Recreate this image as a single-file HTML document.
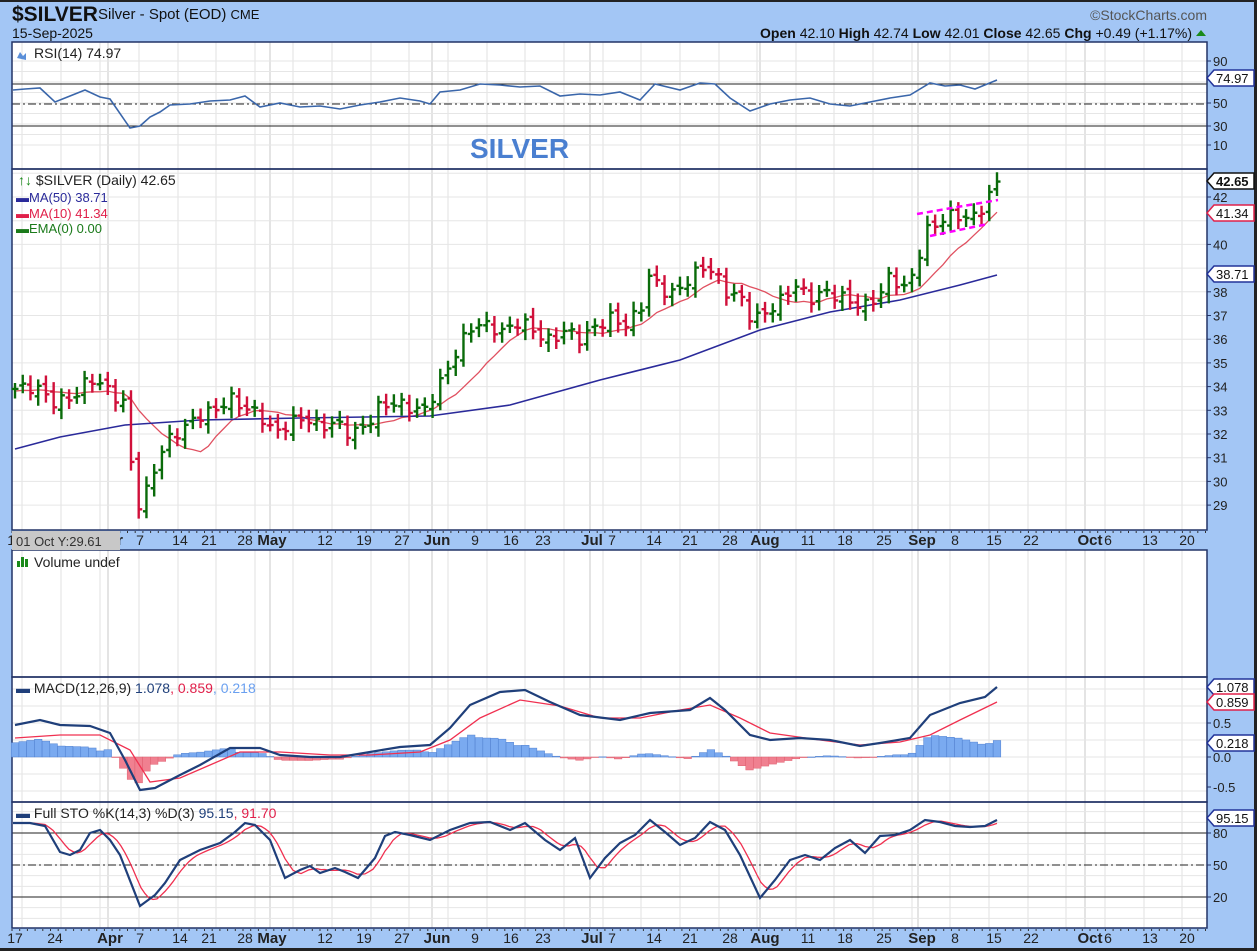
<!DOCTYPE html><html><head><meta charset="utf-8"><style>
body{margin:0;background:#a3c6f5;}svg{display:block;font-family:"Liberation Sans",sans-serif}
</style></head><body>
<svg id="s" width="1257" height="951" xmlns="http://www.w3.org/2000/svg"></svg>
<script>
const S=document.getElementById('s');let h='';
const L=12,R=1207;
h+=`<rect width="1257" height="951" fill="#a3c6f5"/><rect x="0" y="0" width="1257" height="2" fill="#222"/><rect x="0" y="948" width="1257" height="3" fill="#222"/><rect x="1254" y="0" width="3" height="951" fill="#222"/>`;
const P=[[42,169],[169,530],[550,677],[677,802],[802,928]];
P.forEach(p=>h+=`<rect x="${L}" y="${p[0]}" width="${R-L}" height="${p[1]-p[0]}" fill="#fff"/>`);
h+=`<rect x="${L}" y="530" width="${R-L}" height="20" fill="#a3c6f5"/>`;
const wk=[[15,'17'],[55,'24'],[110,'Apr',1],[140,'7'],[180,'14'],[209,'21'],[245,'28'],[272,'May',1],[325,'12'],[364,'19'],[402,'27'],[437,'Jun',1],[475,'9'],[511,'16'],[543,'23'],[592,'Jul',1],[612,'7'],[654,'14'],[690,'21'],[730,'28'],[765,'Aug',1],[808,'11'],[845,'18'],[884,'25'],[922,'Sep',1],[955,'8'],[994,'15'],[1031,'22'],[1090,'Oct',1],[1108,'6'],[1150,'13'],[1187,'20']];
let gx=[22,61,100,139,178,216,255,293,332,371,409,448,487,525,564,603,641,680,719,757,796,834,873,912,950,989,1028,1066,1105,1144,1182];
P.forEach(p=>{gx.forEach(x=>h+=`<line x1="${x}" y1="${p[0]}" x2="${x}" y2="${p[1]}" stroke="#e2e2e2"/>`);
[108,270,432,590,760,918,1085].forEach(x=>h+=`<line x1="${x}" y1="${p[0]}" x2="${x}" y2="${p[1]}" stroke="#c8c8c8"/>`);});
const py=p=>197+(42-p)*23.7;
for(let v=29;v<=43;v++)h+=`<line x1="${L}" y1="${py(v)}" x2="${R}" y2="${py(v)}" stroke="#e6e6e6"/>`;
for(let v=10;v<=90;v+=10){let y=61+(90-v)*1.05;h+=`<line x1="${L}" y1="${y}" x2="${R}" y2="${y}" stroke="#e6e6e6"/>`}
[[84,0],[126,0],[104,1]].forEach(a=>h+=`<line x1="${L}" y1="${a[0]}" x2="${R}" y2="${a[0]}" stroke="#222" ${a[1]?'stroke-dasharray="8,3,2,3"':''}/>`);
for(let v=-0.75;v<=1.25;v+=0.25){let y=757-v*68;if(y>678&&y<801)h+=`<line x1="${L}" y1="${y}" x2="${R}" y2="${y}" stroke="#e6e6e6"/>`}
for(let v=0;v<=100;v+=10){let y=865-(v-50)*1.067;if(y>803&&y<927)h+=`<line x1="${L}" y1="${y}" x2="${R}" y2="${y}" stroke="#e6e6e6"/>`}
[[833,0],[897,0],[865,1]].forEach(a=>h+=`<line x1="${L}" y1="${a[0]}" x2="${R}" y2="${a[0]}" stroke="#222" ${a[1]?'stroke-dasharray="8,3,2,3"':''}/>`);
P.forEach(p=>h+=`<rect x="${L}" y="${p[0]}" width="${R-L}" height="${p[1]-p[0]}" fill="none" stroke="#223366" stroke-width="1.5"/>`);
function axis(y){wk.forEach(w=>h+=`<text x="${w[0]}" y="${y}" font-size="${w[2]?15:14}" ${w[2]?'font-weight="bold"':''} text-anchor="middle" fill="#222">${w[1]}</text>`);
for(let x=L;x<R;x+=7.7)h+=`<line x1="${x}" y1="${y-14}" x2="${x}" y2="${y-12}" stroke="#333"/>`;}
axis(545);axis(943);
h+=`<rect x="12" y="531" width="108" height="19" fill="#c8c8c8"/><text x="16" y="546" font-size="13" fill="#333">01 Oct Y:29.61</text>`;
function ip(pts,x){for(let i=1;i<pts.length;i++){if(x<=pts[i][0]){let a=pts[i-1],b=pts[i];return a[1]+(b[1]-a[1])*(x-a[0])/(b[0]-a[0])}}return pts[pts.length-1][1]}
const kp=[[15,33.9],[35,34.0],[55,33.3],[75,33.6],[90,34.4],[110,33.8],[125,33.2],[133,30.0],[140,28.8],[150,30.0],[160,31.2],[170,31.8],[185,32.3],[200,32.8],[215,33.0],[230,33.5],[245,33.1],[260,32.8],[275,32.0],[290,32.5],[305,32.7],[320,32.3],[335,32.5],[350,32.0],[365,32.3],[380,33.2],[395,33.3],[410,33.1],[425,33.0],[435,33.8],[445,34.5],[460,35.8],[475,36.7],[490,36.5],[505,36.3],[520,36.8],[535,36.3],[550,35.9],[565,36.4],[580,36.0],[595,36.5],[610,36.9],[625,36.6],[640,37.2],[650,38.8],[660,38.1],[675,37.9],[690,38.6],[705,39.1],[715,38.8],[725,38.0],[740,37.8],[752,36.8],[765,37.1],[780,37.6],[795,38.3],[810,37.7],[825,38.0],[840,37.8],[855,37.5],[865,37.4],[880,37.9],[890,38.7],[905,38.1],[915,38.9],[925,40.5],[940,41.0],[955,41.3],[970,41.0],[985,41.7],[997,42.65]];
const N=128,dx=(997-15)/(N-1);let C=[],X=[];
for(let i=0;i<N;i++){let x=15+i*dx;X.push(x);C.push(ip(kp,x)+Math.sin(i*2.3)*0.25*(i<N-1?1:0))}
let bars='';
for(let i=0;i<N;i++){let c=C[i],o=i?C[i-1]+Math.sin(i*1.7)*0.15:c,hi=Math.max(o,c)+0.25+0.15*Math.abs(Math.sin(i)),lo=Math.min(o,c)-0.25-0.15*Math.abs(Math.cos(i));
let col=(!i||c>=C[i-1])?'#0a6b0a':'#d0103a',x=X[i];
bars+=`<path d="M${x} ${py(hi)}V${py(lo)}M${x-3.5} ${py(o)}H${x}M${x} ${py(c)}H${x+3.5}" stroke="${col}" stroke-width="2.4" fill="none"/>`;}
let ma='';for(let i=0;i<N;i++){let s=0;for(let j=i-9;j<=i;j++)s+=j<0?33.8:C[j];ma+=(i?'L':'M')+X[i].toFixed(1)+' '+py(s/10).toFixed(1)}
h+=`<path d="${ma}" stroke="#e05060" stroke-width="1.3" fill="none"/>`;
h+=`<polyline points="15,449 60,437 125,425 200,420 300,418 430,416 510,405 600,380 680,360 760,330 830,312 900,300 960,285 997,275" stroke="#2a2a9a" stroke-width="1.6" fill="none"/>`;
h+=bars;
h+=`<line x1="917" y1="214" x2="998" y2="200" stroke="#f0f" stroke-width="2.5" stroke-dasharray="6,4"/><line x1="930" y1="236" x2="988" y2="224" stroke="#f0f" stroke-width="2.5" stroke-dasharray="6,4"/>`;
h+=`<polyline points="13,90 25,89 40,88 55,102 70,96 85,90 100,97 110,99 130,128 140,126 150,117 160,112 170,105 190,104 210,101 230,100 245,96 260,107 280,103 300,107 320,106 340,109 360,105 380,102 400,98 420,101 430,104 440,92 460,90 480,84 500,85 520,87 540,86 560,96 580,94 600,95 620,92 640,100 655,84 680,90 700,83 715,84 730,98 750,111 770,104 790,100 810,98 830,104 850,106 870,102 890,98 910,95 930,83 945,86 960,85 975,89 997,80" stroke="#3a66aa" stroke-width="1.6" fill="none"/>`;
const mp=[[15,725],[40,720],[60,725],[90,726],[110,733],[125,760],[140,790],[155,788],[180,775],[200,765],[230,748],[260,748],[280,755],[310,757],[340,757],[370,752],[400,747],[430,745],[450,728],[470,705],[500,692],[525,690],[550,702],[580,715],[620,720],[650,713],[690,710],[710,698],[725,710],[750,735],[770,740],[800,738],[830,740],[860,746],[880,743],[910,738],[930,715],[960,703],[985,697],[997,687]];
const sp=[[15,738],[60,735],[100,735],[130,750],[150,782],[180,778],[210,765],[240,752],[280,752],[330,755],[370,755],[420,752],[450,740],[480,718],[520,700],[560,706],[600,718],[640,718],[680,710],[710,705],[740,718],[770,733],[820,740],[860,745],[900,742],[930,735],[960,720],[997,702]];
for(let i=0;i<N;i++){let d=(ip(sp,X[i])-ip(mp,X[i]))*1.1;let y=d>0?757-d:757;h+=`<rect x="${X[i]-3.8}" y="${y}" width="7.6" height="${Math.max(Math.abs(d),0.5)}" fill="${d>0?'#7aaaf0':'#f08090'}" stroke="${d>0?'#5080d0':'#e06070'}" stroke-width="0.5"/>`}
const pl=(pts,c,w)=>h+=`<polyline points="${pts.map(p=>p.join(',')).join(' ')}" stroke="${c}" stroke-width="${w}" fill="none"/>`;
pl(sp,'#f03050',1.3);pl(mp,'#1f3f7a',2.2);
const kk=[[13,823],[30,823],[45,826],[60,852],[70,855],[80,850],[90,833],[100,830],[110,840],[120,855],[140,906],[155,895],[165,883],[180,860],[200,850],[220,843],[235,832],[245,823],[255,825],[270,840],[285,878],[300,870],[310,866],[320,873],[335,868],[345,872],[358,878],[375,858],[385,836],[395,832],[410,835],[430,840],[450,830],[470,823],[490,822],[510,830],[525,823],[545,840],[560,850],[575,838],[590,878],[605,858],[620,843],[635,835],[650,820],[665,832],[680,845],[695,838],[710,822],[725,830],[740,855],[760,898],[775,880],[790,860],[805,855],[820,860],[835,848],[850,840],[865,853],[880,836],[895,835],[910,830],[925,820],[940,822],[955,826],[970,827],[985,826],[997,820]];
let dd=[];for(let x=13;x<=997;x+=4){dd.push([x,((ip(kk,x)+ip(kk,x-7.7)+ip(kk,x-15.4))/3).toFixed(1)])}
pl(dd,'#f03050',1.3);pl(kk,'#1f3f7a',2.2);
function tick(y,t){h+=`<line x1="${R}" y1="${y}" x2="${R+4}" y2="${y}" stroke="#223366"/><text x="${R+6}" y="${y+5}" font-size="13" fill="#222">${t}</text>`}
[[61,'90'],[103,'50'],[126,'30'],[145,'10']].forEach(a=>tick(...a));
for(let v=29;v<=42;v++)if(v!=39&&v!=41)tick(py(v),v);
[[723,'0.5'],[757,'0.0'],[787,'-0.5']].forEach(a=>tick(...a));
[[833,'80'],[865,'50'],[897,'20']].forEach(a=>tick(...a));
function tag(y,t,c,b){h+=`<path d="M${R} ${y} L${R+7} ${y-8} H${R+47} V${y+8} H${R+7} Z" fill="#fff" stroke="${c}" stroke-width="1.5"/><text x="${R+9}" y="${y+5}" font-size="13" ${b?'font-weight="bold"':''} fill="#111">${t}</text>`}
tag(78,'74.97','#223399');tag(181,'42.65','#111',1);tag(213,'41.34','#e0204a');tag(274,'38.71','#223399');
tag(687,'1.078','#223399');tag(702,'0.859','#e0204a');tag(743,'0.218','#223399');tag(818,'95.15','#223399');
h+=`<text x="12" y="21" font-size="21" font-weight="bold" fill="#111">$SILVER</text><text x="98" y="19" font-size="15" fill="#111">Silver - Spot (EOD) <tspan font-size="13">CME</tspan></text>
<text x="12" y="38" font-size="14" fill="#111">15-Sep-2025</text>
<text x="1207" y="20" font-size="14" fill="#555" text-anchor="end">©StockCharts.com</text>
<text x="1192" y="38" font-size="14" fill="#111" text-anchor="end"><tspan font-weight="bold">Open</tspan> 42.10  <tspan font-weight="bold">High</tspan> 42.74  <tspan font-weight="bold">Low</tspan> 42.01  <tspan font-weight="bold">Close</tspan> 42.65  <tspan font-weight="bold">Chg</tspan> +0.49 (+1.17%)</text><path d="M1196 36 l5 -6 l5 6z" fill="#1a8a1a"/>
<path d="M17 58 l3 -6 l3 4 l3 -3 v7 z" fill="#5b8fd8"/><text x="34" y="58" font-size="14" fill="#222">RSI(14) 74.97</text>
<text x="470" y="158" font-size="28" font-weight="bold" fill="#4a7fd0">SILVER</text>
<text x="18" y="185" font-size="14" fill="#222"><tspan fill="#1a8a1a">↑↓</tspan> $SILVER (Daily) 42.65</text>
<text x="16" y="202" font-size="13" fill="#2a2a9a">▬MA(50) 38.71</text>
<text x="16" y="218" font-size="13" fill="#e0204a">▬MA(10) 41.34</text>
<text x="16" y="233" font-size="13" fill="#1a7a1a">▬EMA(0) 0.00</text>
<rect x="17" y="561" width="3" height="6" fill="#1a8a1a"/><rect x="21" y="557" width="3" height="10" fill="#1a8a1a"/><rect x="25" y="559" width="3" height="8" fill="#1a8a1a"/>
<text x="34" y="567" font-size="14" fill="#222">Volume undef</text>
<text x="16" y="693" font-size="14" fill="#222"><tspan fill="#1f3f7a">▬</tspan> MACD(12,26,9) <tspan fill="#1f3f7a">1.078</tspan><tspan fill="#e0204a">, 0.859</tspan><tspan fill="#6aa0f0">, 0.218</tspan></text>
<text x="16" y="818" font-size="14" fill="#222"><tspan fill="#1f3f7a">▬</tspan> Full STO %K(14,3) %D(3) <tspan fill="#1f3f7a">95.15</tspan><tspan fill="#e0204a">, 91.70</tspan></text>`;
S.innerHTML=h;
</script></body></html>
